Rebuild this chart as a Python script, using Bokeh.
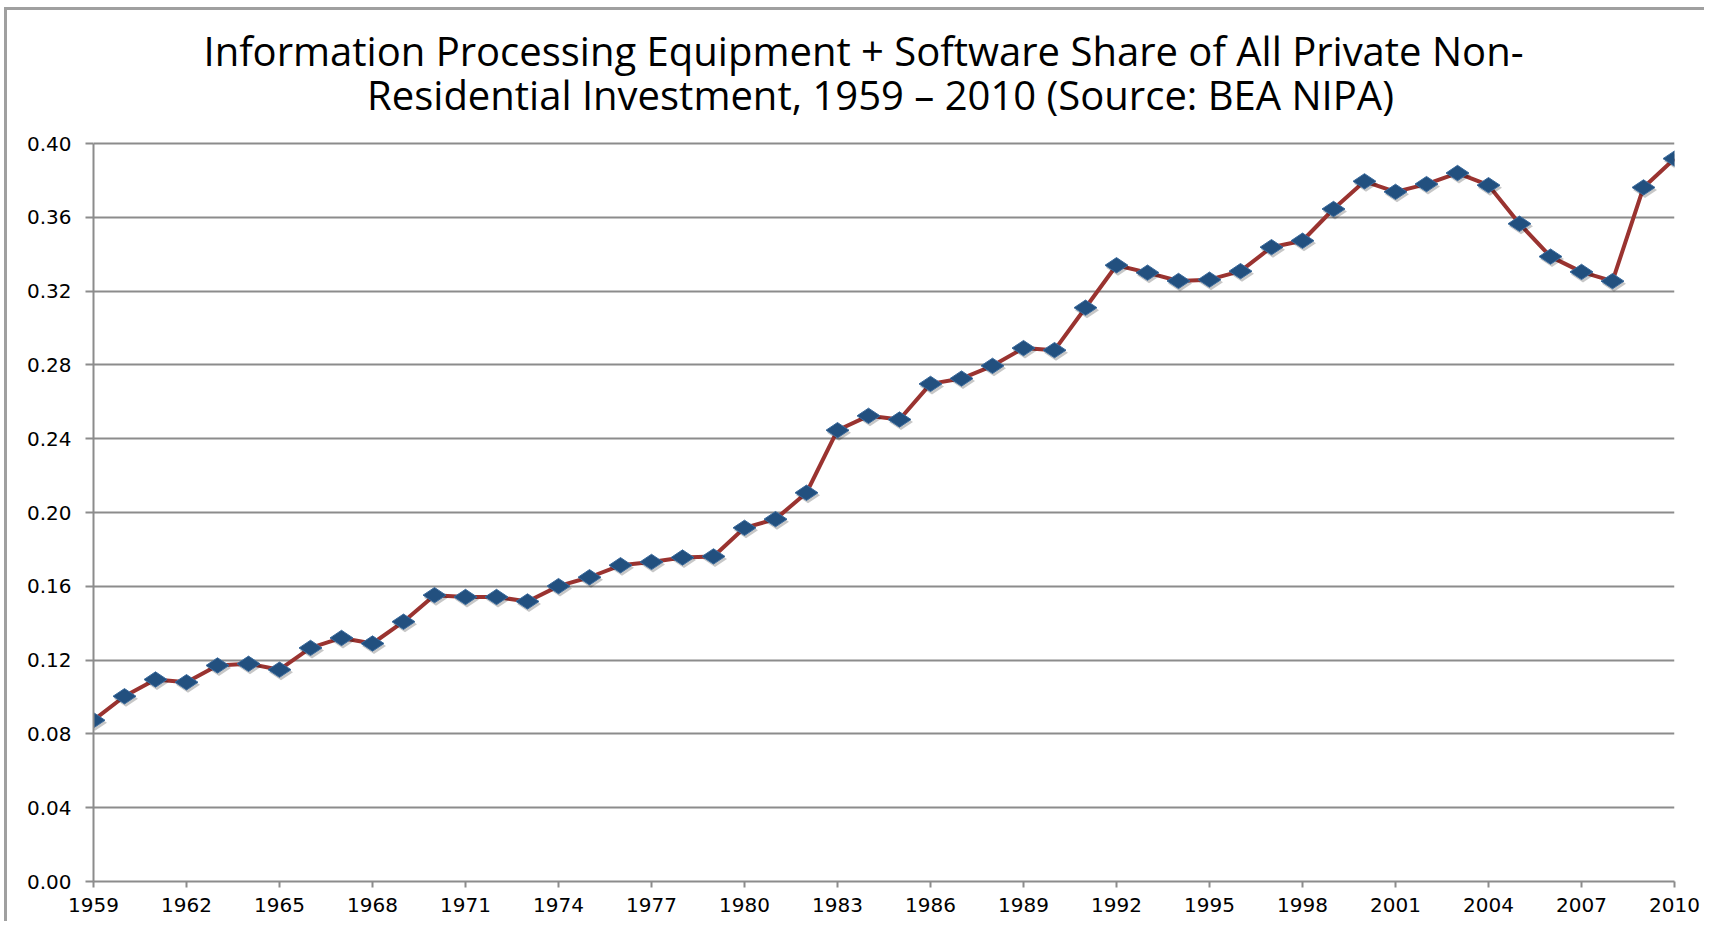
from bokeh.plotting import figure
from bokeh.models import FixedTicker, ColumnDataSource, Label
from bokeh.embed import file_html
from bokeh.resources import INLINE
import math

# ---- data -------------------------------------------------------------
years = list(range(1959, 2011))
shares = [0.0874, 0.1004, 0.1095, 0.1080, 0.1171, 0.1180, 0.1148, 0.1266, 0.1320, 0.1290,
          0.1408, 0.1552, 0.1542, 0.1542, 0.1518, 0.1601, 0.1649, 0.1714, 0.1732, 0.1756,
          0.1762, 0.1917, 0.1964, 0.2107, 0.2446, 0.2524, 0.2504, 0.2697, 0.2726, 0.2795,
          0.2891, 0.2880, 0.3110, 0.3340, 0.3300, 0.3255, 0.3262, 0.3308, 0.3438, 0.3473,
          0.3645, 0.3795, 0.3738, 0.3780, 0.3840, 0.3774, 0.3565, 0.3387, 0.3304, 0.3254,
          0.3762, 0.3918]
x_ticks = years[::3]
y_ticks = [0.00, 0.04, 0.08, 0.12, 0.16, 0.20, 0.24, 0.28, 0.32, 0.36, 0.40]
title_line1 = "Information Processing Equipment + Software Share of All Private Non-"
title_line2 = "Residential Investment, 1959 \u2013 2010 (Source: BEA NIPA)"

W, H = 1700, 914
MB_L, MB_R, MB_B = 86, 33, 43
TITLE_SPACE = 133          # pixels above the 0.40 gridline reserved for the title

frame_h = H - MB_B                      # frame reaches the top of the canvas
plot_h = frame_h - TITLE_SPACE          # height covered by 0 .. 0.40
y_top = y_ticks[-1] * frame_h / plot_h  # extend range so the title sits inside the frame

src = ColumnDataSource(dict(x=years, y=shares))

# soft drop shadow under the markers: a little right and down
px_x = (years[-1] - years[0]) / (W - MB_L - MB_R)
px_y = (y_ticks[-1] - y_ticks[0]) / plot_h
shadow = ColumnDataSource(dict(x=[v + 1.5 * px_x for v in years],
                               y=[v - 2.5 * px_y for v in shares]))

p = figure(width=W, height=H, output_backend="svg", toolbar_location=None,
           x_range=(years[0], years[-1]), y_range=(y_ticks[0], y_top),
           min_border_left=MB_L, min_border_right=MB_R, min_border_top=0,
           min_border_bottom=MB_B, title=None)
p.styles = {"border-top": "3px solid #a0a0a0", "border-left": "3px solid #a0a0a0",
            "margin-left": "4px", "margin-top": "7px"}

# title: two centred lines, screen units measured from the frame's bottom-left
for txt, cx, base in ((title_line1, 770, 831), (title_line2, 787, 787)):
    p.add_layout(Label(x=cx, y=base, x_units="screen", y_units="screen",
                       text=txt, text_font="Open Sans", text_font_size="40px",
                       text_color="black", text_align="center",
                       text_baseline="alphabetic"))

p.outline_line_color = None
p.background_fill_color = "white"
p.border_fill_color = "white"

grid_col = "#8c8c8c"
p.xgrid.visible = False
p.ygrid.ticker = FixedTicker(ticks=y_ticks)
p.ygrid.grid_line_color = grid_col
p.ygrid.grid_line_width = 2

for ax in (p.xaxis[0], p.yaxis[0]):
    ax.axis_line_color = grid_col
    ax.axis_line_width = 2
    ax.major_tick_line_color = grid_col
    ax.major_tick_line_width = 2
    ax.minor_tick_line_color = None
    ax.major_tick_in = 0
    ax.major_label_text_font = "DejaVu Sans"
    ax.major_label_text_font_size = "20px"
    ax.major_label_text_color = "black"

p.xaxis.ticker = FixedTicker(ticks=x_ticks)
p.xaxis.major_tick_out = 6
p.xaxis.major_label_standoff = 10
p.yaxis.ticker = FixedTicker(ticks=y_ticks)
p.yaxis.bounds = (y_ticks[0], y_ticks[-1])
p.yaxis.major_tick_out = 8
p.yaxis.major_label_standoff = 14
p.yaxis.major_label_overrides = {t: f"{t:.2f}" for t in y_ticks}

p.line("x", "y", source=src, line_color="#9a3330", line_width=4)
p.scatter("x", "y", source=shadow, marker="diamond", size=24, angle=math.pi / 2,
          fill_color="black", fill_alpha=0.22, line_color=None)
p.scatter("x", "y", source=src, marker="diamond", size=23, angle=math.pi / 2,
          fill_color="#22507f", line_color="#3a6a9c", line_width=1)

open("out.html", "w").write(file_html(p, INLINE))
